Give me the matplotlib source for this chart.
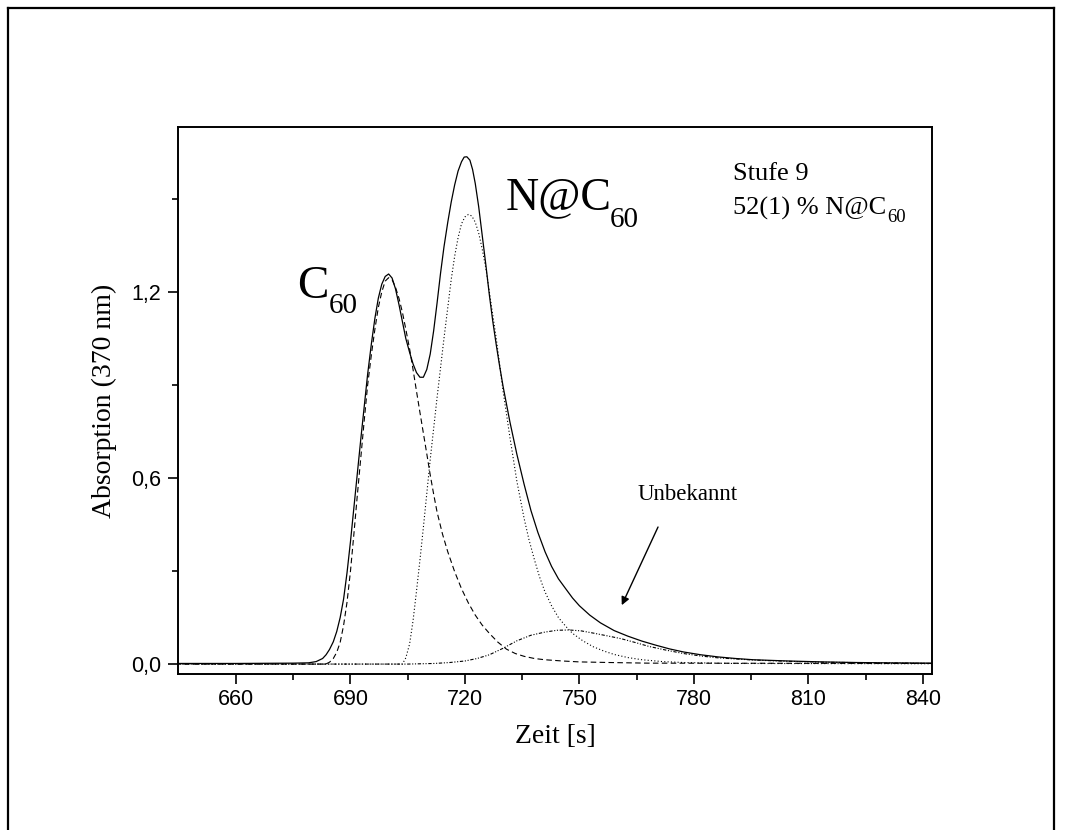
import matplotlib
matplotlib.use("Agg")
import matplotlib.pyplot as plt
from matplotlib.lines import Line2D
from matplotlib.ticker import FixedLocator

# -------------------------------------------------------------------
# DATA  (Zeit in s, Absorption bei 370 nm)
# -------------------------------------------------------------------

# gemessenes Chromatogramm
t_total = [644, 660, 675, 679, 681, 682.7, 683.6, 684.5, 685.5, 686.4, 687.3,
           688.2, 689.1, 690.0, 690.9, 691.8, 692.7, 693.6, 694.5, 695.5,
           696.4, 697.3, 698.2, 699.1, 700.0, 700.9, 701.8, 702.7, 703.6,
           704.5, 705.5, 706.4, 707.3, 708.2, 709.1, 710.0, 710.9, 711.8,
           712.7, 713.6, 714.5, 715.5, 716.4, 717.3, 718.2, 719.1, 719.8,
           720.5, 721.3, 722.0, 722.7, 723.6, 724.5, 725.5, 726.4, 727.3,
           728.2, 729.1, 730.0, 731.8, 733.6, 735.5, 737.3, 739.1, 741.0,
           742.7, 744.5, 746.4, 748.2, 750.0, 752.7, 755.5, 759.1, 762.7,
           766.4, 770.0, 773.6, 777.3, 781.8, 786.4, 790.9, 795.5, 804.5,
           813.6, 822.7, 830, 843]
a_total = [0.002, 0.002, 0.003, 0.004, 0.008, 0.018, 0.030, 0.047, 0.072, 0.105,
           0.150, 0.210, 0.295, 0.395, 0.505, 0.615, 0.725, 0.830, 0.935, 1.035,
           1.115, 1.180, 1.225, 1.250, 1.258, 1.245, 1.210, 1.160, 1.105,
           1.050, 1.005, 0.968, 0.940, 0.925, 0.925, 0.950, 1.000, 1.075,
           1.165, 1.260, 1.345, 1.425, 1.490, 1.545, 1.590, 1.620, 1.635,
           1.636, 1.625, 1.595, 1.550, 1.475, 1.385, 1.285, 1.190, 1.105,
           1.030, 0.960, 0.895, 0.780, 0.677, 0.580, 0.495, 0.425, 0.362,
           0.315, 0.275, 0.243, 0.213, 0.188, 0.158, 0.133, 0.108, 0.090,
           0.074, 0.061, 0.049, 0.039, 0.030, 0.023, 0.018, 0.014, 0.010,
           0.007, 0.005, 0.004, 0.003]

# Anpassung C60
t_c60 = [644, 683.5, 684.5, 685.5, 686.4, 687.3, 688.2, 689.1, 690.0, 690.9,
         691.8, 692.7, 693.6, 694.5, 695.5, 696.4, 697.3, 698.2, 699.1,
         700.0, 700.9, 701.8, 702.7, 703.6, 704.5, 705.5, 706.4, 707.3,
         708.2, 709.1, 710.0, 710.9, 711.8, 712.7, 714.1, 715.5, 717.3,
         719.1, 720.9, 722.7, 724.5, 726.4, 728.6, 730.9, 733.2, 735.5,
         738.2, 740.9, 745.5, 750, 758, 768, 843]
a_c60 = [0.0, 0.0, 0.006, 0.018, 0.038, 0.070, 0.125, 0.200, 0.300, 0.420,
         0.545, 0.665, 0.785, 0.900, 1.000, 1.080, 1.150, 1.200, 1.235,
         1.246, 1.240, 1.215, 1.180, 1.135, 1.080, 1.016, 0.950, 0.880,
         0.812, 0.745, 0.678, 0.610, 0.548, 0.490, 0.420, 0.362, 0.298,
         0.243, 0.197, 0.158, 0.126, 0.099, 0.071, 0.048, 0.034, 0.025,
         0.018, 0.014, 0.010, 0.007, 0.005, 0.003, 0.002]

# Anpassung N@C60
t_nc60 = [644, 703.6, 704.5, 705.5, 706.4, 707.3, 708.2, 709.1, 710.0, 710.9,
          711.8, 712.7, 713.6, 714.5, 715.5, 716.4, 717.3, 718.2, 719.1,
          720.0, 720.9, 721.8, 722.7, 723.6, 724.5, 725.5, 726.4, 727.3,
          728.2, 729.1, 730.0, 731.8, 733.6, 735.5, 736.8, 738.2, 739.5,
          740.9, 742.7, 744.5, 746.4, 748.2, 750.9, 753.6, 756.4, 759.1,
          762.7, 766.4, 771.8, 777.3, 790, 843]
a_nc60 = [0.0, 0.0, 0.020, 0.065, 0.140, 0.235, 0.335, 0.440, 0.550, 0.660,
          0.760, 0.860, 0.955, 1.050, 1.150, 1.240, 1.315, 1.375, 1.420,
          1.442, 1.450, 1.445, 1.425, 1.390, 1.340, 1.275, 1.200, 1.125,
          1.050, 0.965, 0.880, 0.730, 0.590, 0.470, 0.400, 0.337, 0.283,
          0.235, 0.188, 0.150, 0.122, 0.099, 0.075, 0.056, 0.042, 0.031,
          0.021, 0.014, 0.008, 0.005, 0.002, 0.001]

# unbekannte Komponente
t_unb = [644, 705, 712, 716, 720, 723.2, 726.4, 730.0, 733.6, 737.3, 740.9,
         744.1, 747.3, 750.5, 753.6, 757.3, 760.9, 764.5, 768.2, 772.7,
         777.3, 781.8, 786.4, 795.5, 804.5, 813.6, 843]
a_unb = [0.0, 0.0, 0.002, 0.005, 0.010, 0.018, 0.030, 0.051, 0.075, 0.093, 0.103,
         0.109, 0.110, 0.107, 0.100, 0.091, 0.082, 0.070, 0.057, 0.045,
         0.034, 0.026, 0.020, 0.013, 0.009, 0.006, 0.002]

x_major = [660, 690, 720, 750, 780, 810, 840]
x_minor = [675, 705, 735, 765, 795, 825]
y_major = [0.0, 0.6, 1.2]
y_minor = [0.3, 0.9, 1.5]
y_labels = ["0,0", "0,6", "1,2"]

# -------------------------------------------------------------------
# PLOT
# -------------------------------------------------------------------

W, H = 1065, 830
fig = plt.figure(figsize=(W / 100, H / 100), dpi=100)
ax = fig.add_axes([178 / W, 1 - 674 / H, (932 - 178) / W, (674 - 127) / H])

serif = "Liberation Serif"
sans = "Liberation Sans"

ax.plot(t_total, a_total, color="black", lw=0.9, ls="-")
ax.plot(t_c60, a_c60, color="black", lw=0.8, ls=(0, (5, 3)))
ax.plot(t_nc60, a_nc60, color="black", lw=0.8, ls=(0, (1, 2)))
ax.plot(t_unb, a_unb, color="black", lw=0.8,
        ls=(0, (3, 1.5, 1, 1.5, 1, 1.5)))

ax.set_xlim(644.8, 842.4)
ax.set_ylim(-0.032, 1.732)

ax.xaxis.set_major_locator(FixedLocator(x_major))
ax.xaxis.set_minor_locator(FixedLocator(x_minor))
ax.yaxis.set_major_locator(FixedLocator(y_major))
ax.yaxis.set_minor_locator(FixedLocator(y_minor))
ax.set_yticklabels(y_labels)

for lbl in ax.get_xticklabels() + ax.get_yticklabels():
    lbl.set_fontfamily(sans)
    lbl.set_fontsize(15.5)

ax.tick_params(which="major", direction="out", length=7, width=1.2)
ax.tick_params(which="minor", direction="out", length=4.5, width=1.2)
ax.tick_params(axis="x", which="major", pad=4)
ax.tick_params(axis="y", which="major", pad=5)

for sp in ax.spines.values():
    sp.set_linewidth(1.4)

ax.set_xlabel("Zeit [s]", fontfamily=serif, fontsize=20, labelpad=10)
ax.set_ylabel("Absorption (370 nm)", fontfamily=serif, fontsize=20,
              labelpad=10)


def px_text(x, y, s, size, **kw):
    fig.text(x / W, 1 - y / H, s, fontfamily=serif, fontsize=size,
             va="baseline", ha="left", **kw)


# Peakbeschriftungen
px_text(297, 298, "C", 34)
px_text(329, 313, "60", 21)
px_text(506, 209, "N@C", 33)
px_text(610, 227, "60", 21)

# Probeninfo
px_text(733, 180, "Stufe 9", 19)
px_text(733, 215, "52(1) % N@C", 19)
px_text(887, 222, "60", 13.5)

# unbekannte Komponente: Beschriftung und Pfeil
ax.text(778.4, 0.53, "Unbekannt", fontfamily=serif, fontsize=16.5,
        ha="center", va="baseline")
ax.annotate("", xy=(761.1, 0.19), xytext=(770.6, 0.442),
            arrowprops=dict(arrowstyle="-|>", color="black", lw=1.0,
                            mutation_scale=12, shrinkA=0, shrinkB=0))

# Rahmen um die Abbildung
frame = [((8, 8), (1054, 8)), ((8, 8), (8, 830)), ((1054, 8), (1054, 830))]
for (x0, y0), (x1, y1) in frame:
    fig.add_artist(Line2D([x0 / W, x1 / W], [1 - y0 / H, 1 - y1 / H],
                          color="black", lw=1.6))

fig.savefig("out.png", dpi=100, facecolor="white")
